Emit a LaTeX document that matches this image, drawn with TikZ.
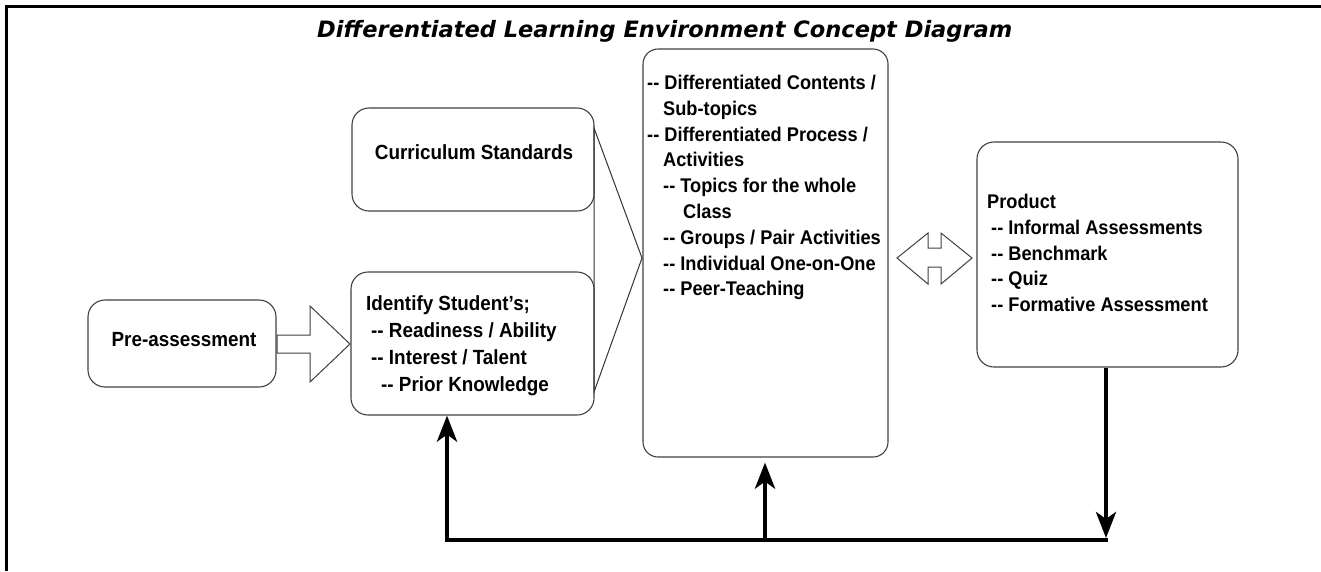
\documentclass[tikz,border=0pt]{standalone}
\usepackage{fontspec}
\setmainfont{Liberation Sans}
\newfontfamily\nar{Liberation Sans}[FakeStretch=0.92]
\newfontfamily\titlefont{DejaVu Sans}
\newcommand{\dd}{-{}-}
\usetikzlibrary{arrows.meta}
\begin{document}
\begin{tikzpicture}[x=1pt,y=-1pt,
  box/.style={draw=black!75, line width=1.1pt, rounded corners=17pt, inner sep=0pt},
  txt/.style={font=\nar\bfseries\fontsize{19.8}{25.8}\selectfont, inner sep=0pt, align=left, anchor=north west},
  lbl/.style={font=\nar\bfseries\fontsize{20.5}{23}\selectfont, inner sep=0pt, anchor=base},
  thinl/.style={draw=black!80, line width=1pt, line join=miter},
  hollow/.style={draw=black!75, line width=1pt, fill=white, line join=miter},
  fb/.style={line width=4.5pt, line cap=rect},
  tip/.style={-{Stealth[length=26pt,width=20pt,inset=7pt]}}]
\path[use as bounding box] (0,0) rectangle (1321,571);
% frame
\draw[line width=2.2pt] (6.5,571) -- (6.5,6.5) -- (1321,6.5);
% title
\node[inner sep=0pt, anchor=base west] (title) at (317,37)
  {\resizebox{695pt}{!}{\titlefont\bfseries\itshape Differentiated Learning Environment Concept Diagram}};
% boxes
\node[box, minimum width=188pt, minimum height=87pt] (pre) at (182,343.5) {};
\node[box, minimum width=242pt, minimum height=103pt] (curr) at (473,159.5) {};
\node[box, minimum width=243pt, minimum height=143pt] (iden) at (472.5,343.5) {};
\node[box, minimum width=245pt, minimum height=408pt, rounded corners=15pt] (cent) at (765.5,253) {};
\node[box, minimum width=261pt, minimum height=225pt] (prod) at (1107.5,254.5) {};
% texts
\node[lbl] (pretxt) at (184,346) {Pre-assessment};
\node[lbl] (currtxt) at (474,159) {Curriculum Standards};
\node[txt, font=\nar\bfseries\fontsize{20.5}{27}\selectfont] (identxt) at (366,295)
  {Identify Student’s;\\
   \hspace*{5pt}\dd{} Readiness / Ability\\
   \hspace*{5pt}\dd{} Interest / Talent\\
   \hspace*{15pt}\dd{} Prior Knowledge};
\node[txt] (centtxt) at (647,75)
  {\dd{} Differentiated Contents /\\
   \hspace*{16pt}Sub-topics\\
   \dd{} Differentiated Process /\\
   \hspace*{16pt}Activities\\
   \hspace*{16pt}\dd{} Topics for the whole\\
   \hspace*{36pt}Class\\
   \hspace*{16pt}\dd{} Groups / Pair Activities\\
   \hspace*{16pt}\dd{} Individual One-on-One\\
   \hspace*{16pt}\dd{} Peer-Teaching};
\node[txt] (prodtxt) at (987,194)
  {Product\\
   \hspace*{4pt}\dd{} Informal Assessments\\
   \hspace*{4pt}\dd{} Benchmark\\
   \hspace*{4pt}\dd{} Quiz\\
   \hspace*{4pt}\dd{} Formative Assessment};
% bracket triangle
\coordinate (t1) at (594,128);
\coordinate (t2) at (642,258);
\coordinate (t3) at (594,392);
\draw[thinl] (t1) -- (t2) -- (t3) -- cycle;
% hollow arrow pre -> iden
\draw[hollow] (277,335) -- (310,335) -- (310,306) -- (350,344) -- (310,382) -- (310,353) -- (277,353) -- cycle;
% double arrow
\draw[hollow] (897,258) -- (928,233) -- (928,248) -- (941,248) -- (941,233) -- (972,258)
  -- (941,284) -- (941,267) -- (928,267) -- (928,284) -- cycle;
% feedback loop
\coordinate (c1) at (447,540);
\coordinate (c2) at (765,540);
\coordinate (c3) at (1106,540);
\coordinate (c3t) at (1106,538);
\draw[fb] (c1) -- (c3);
\draw[fb, line cap=butt, tip] (c1) -- (c1 |- iden.south);
\draw[fb, line cap=butt, tip, shorten >=5pt] (c2) -- (c2 |- cent.south);
\draw[fb, line cap=butt, tip] (prod.south -| c3) -- (c3t);
\end{tikzpicture}
\end{document}
